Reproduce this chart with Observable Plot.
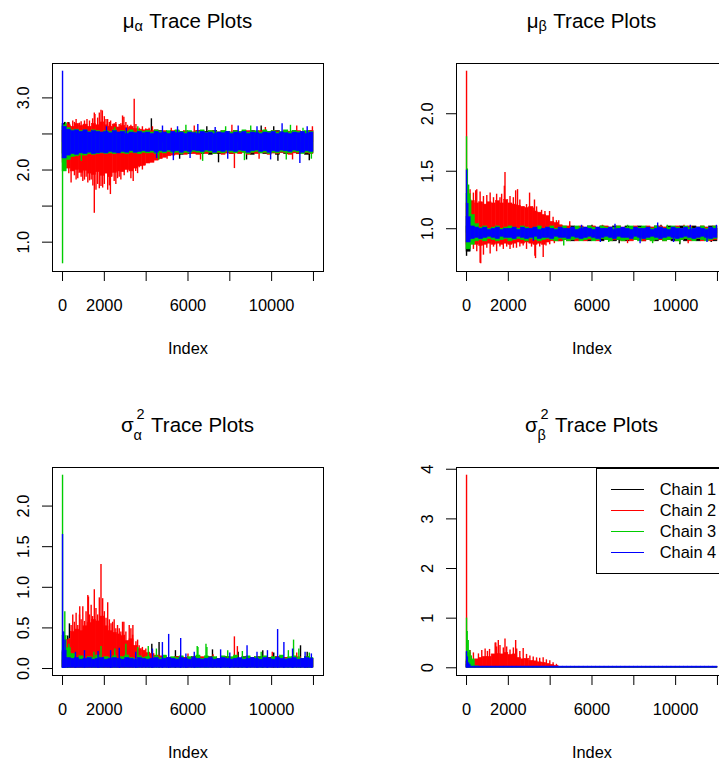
<!DOCTYPE html>
<html><head><meta charset="utf-8">
<script src="https://cdn.jsdelivr.net/npm/d3@7"></script>
<script src="https://cdn.jsdelivr.net/npm/@observablehq/plot@0.6"></script>
<style>
body{margin:0;background:#fff;}
#wrap{position:relative;width:719px;height:761px;overflow:hidden;background:#fff;font-family:"Liberation Sans",Arial,sans-serif;color:#000;}
.panel{position:absolute;width:404px;height:404px;}
.panel svg{position:absolute;left:0;top:0;}
.title{position:absolute;left:0;top:8.6px;width:375px;text-align:center;font-size:20.5px;line-height:24px;white-space:nowrap;}
.ss{display:inline-block;position:relative;height:0;vertical-align:baseline;}
.ss span{position:absolute;font-size:14.5px;line-height:10px;}
.s1{width:9px;}
.s1 .sub{left:0;top:-7px;}
.s2{width:11.5px;margin-right:6px;}
.s2 .sub{left:0;top:-1.7px;}
.s2 .sup{left:3px;bottom:12.7px;}
.legend{position:absolute;left:191.7px;top:63.5px;width:200px;height:106px;border:1px solid #000;box-sizing:border-box;background:#fff;}
.lrow{position:absolute;left:0;height:0;}
.lline{position:absolute;left:14px;width:33px;height:1px;top:0;}
.ltext{position:absolute;left:63px;top:-10px;font-size:16.4px;line-height:20px;white-space:nowrap;}
</style>
</head><body>
<div id="wrap"></div>
<script>
// ---------------- data ----------------
const chainNames = ["Chain 1", "Chain 2", "Chain 3", "Chain 4"];
const chainColors = ["#000000", "#FF0000", "#00CD00", "#0000FF"];
const BIN = 200;          // iterations per drawn column
const N_ITER = 12000;
const xTicks = [0, 2000, 4000, 6000, 8000, 10000, 12000];
const xTickLabels = ["0", "2000", "", "6000", "", "10000", ""];

// ---- mu_alpha ----
const mua_mid = 2.38;
const mua_yTicks = [1.0, 1.5, 2.0, 2.5, 3.0];
const mua_yLabels = ["1.0", "", "2.0", "", "3.0"];
const mua_c1_hi = [2.64,2.60,2.54,2.55,2.53,2.54,2.52,2.54,2.53,2.52, 2.53,2.51,2.54,2.52,2.53,2.52,2.54,2.51,2.53,2.52, 2.54,2.53,2.52,2.54,2.51,2.53,2.52,2.54,2.53,2.51, 2.53,2.52,2.54,2.51,2.53,2.52,2.54,2.52,2.51,2.53, 2.52,2.54,2.53,2.51,2.52,2.54,2.53,2.52,2.51,2.53, 2.52,2.54,2.51,2.53,2.52,2.54,2.53,2.51,2.52,2.54];
const mua_c1_lo = [2.22,2.20,2.21,2.23,2.22,2.24,2.21,2.23,2.22,2.24, 2.23,2.21,2.24,2.22,2.23,2.25,2.22,2.24,2.23,2.22, 2.24,2.23,2.22,2.24,2.25,2.22,2.24,2.23,2.21,2.24, 2.22,2.23,2.25,2.22,2.24,2.21,2.23,2.22,2.24,2.23, 2.22,2.24,2.23,2.25,2.22,2.21,2.24,2.23,2.22,2.24, 2.23,2.21,2.24,2.22,2.23,2.25,2.22,2.24,2.21,2.23];
const mua_c1_spk = [[100,2.66],[300,2.66],[4250,2.71],[6900,2.60],[9500,2.61],[10100,2.60],[7460,2.10],[10300,2.12],[11800,2.13],[8800,2.14],[5600,2.15],[1500,2.15],[3300,2.14]];
const mua_c2_hi = [2.54,2.62,2.60,2.64,2.61,2.63,2.60,2.64,2.62,2.66, 2.62,2.60,2.63,2.59,2.61,2.58,2.60,2.57,2.56,2.55, 2.56,2.54,2.55,2.53,2.54,2.52,2.54,2.53,2.52,2.54, 2.53,2.52,2.54,2.53,2.51,2.54,2.53,2.52,2.54,2.53, 2.52,2.54,2.53,2.51,2.54,2.53,2.52,2.54,2.53,2.52, 2.54,2.53,2.51,2.54,2.53,2.52,2.54,2.53,2.52,2.54];
const mua_c2_lo = [2.10,2.02,1.98,2.00,1.96,1.99,1.95,1.93,1.97,1.92, 1.95,1.90,1.96,1.98,1.97,2.00,1.98,2.02,2.05,2.06, 2.09,2.10,2.13,2.15,2.17,2.19,2.20,2.21,2.22,2.21, 2.23,2.22,2.21,2.23,2.22,2.24,2.22,2.23,2.21,2.23, 2.22,2.23,2.22,2.24,2.21,2.23,2.22,2.24,2.23,2.21, 2.23,2.22,2.24,2.23,2.21,2.23,2.22,2.24,2.23,2.22];
const mua_c2_spk = [[250,2.66],[330,2.64],[490,2.68],[570,2.66],[650,2.70],[810,2.65],[890,2.67],[1050,2.68],[1170,2.70],[1290,2.68],[1440,2.71],[1520,2.79],[1550,2.77],[1680,2.72],[1760,2.79],[1840,2.83],[1905,2.82],[2000,2.74],[2080,2.70],[2157,2.70],[2240,2.66],[2300,2.68],[2470,2.64],[2550,2.66],[2710,2.63],[2790,2.64],[2870,2.75],[2933,2.73],[3030,2.66],[3110,2.62],[3270,2.62],[3428,2.98],[3510,2.63],[3665,2.58],[3820,2.60],[3980,2.57],[4140,2.58],[4300,2.60],[5200,2.58],[6300,2.61],[8100,2.62],[9700,2.59],[11200,2.61],[11950,2.60],
  [300,1.95],[410,1.82],[570,1.92],[650,1.86],[730,1.88],[890,1.90],[970,1.84],[1050,1.86],[1130,1.90],[1210,1.82],[1290,1.85],[1370,1.86],[1450,1.78],[1520,1.40],[1600,1.72],[1680,1.80],[1760,1.74],[1840,1.77],[1920,1.75],[2000,1.80],[2160,1.72],[2240,1.78],[2290,1.66],[2470,1.84],[2550,1.80],[2630,1.88],[2710,1.90],[2790,1.86],[2950,1.92],[3110,1.96],[3270,1.88],[3380,1.84],[3500,1.98],[3590,1.95],[3665,2.03],[3820,2.00],[3900,2.06],[4140,2.10],[4300,2.12],[4600,2.14],[5000,2.15],[6600,2.14],[8220,2.02],[9400,2.15],[11000,2.14]];
const mua_c3_hi = [2.62,2.58,2.55,2.56,2.54,2.55,2.53,2.55,2.54,2.52, 2.54,2.53,2.55,2.52,2.54,2.53,2.55,2.52,2.54,2.53, 2.54,2.52,2.55,2.53,2.52,2.54,2.52,2.55,2.53,2.52, 2.54,2.52,2.53,2.55,2.52,2.54,2.53,2.52,2.54,2.53, 2.52,2.54,2.53,2.55,2.52,2.53,2.54,2.52,2.55,2.53, 2.54,2.52,2.53,2.55,2.52,2.54,2.53,2.52,2.54,2.53];
const mua_c3_lo = [1.98,2.14,2.18,2.19,2.21,2.20,2.22,2.21,2.22,2.23, 2.22,2.23,2.22,2.24,2.23,2.22,2.24,2.23,2.22,2.24, 2.23,2.24,2.22,2.24,2.23,2.25,2.23,2.24,2.22,2.24, 2.23,2.25,2.24,2.23,2.25,2.24,2.22,2.24,2.23,2.25, 2.24,2.23,2.25,2.24,2.22,2.24,2.25,2.23,2.24,2.22, 2.24,2.23,2.25,2.24,2.23,2.25,2.24,2.22,2.24,2.23];
const mua_c3_spk = [[1,0.70],[150,2.66],[900,2.12],[2500,2.59],[3600,2.60],[4600,2.14],[5900,2.62],[6700,2.12],[7800,2.60],[8700,2.13],[9000,2.61],[10700,2.14],[10900,2.62],[11500,2.58],[11900,2.15]];
const mua_c4_hi = [2.60,2.56,2.54,2.55,2.53,2.55,2.52,2.54,2.53,2.52, 2.53,2.51,2.54,2.52,2.53,2.50,2.52,2.51,2.53,2.51, 2.52,2.50,2.53,2.51,2.52,2.50,2.53,2.51,2.52,2.50, 2.52,2.51,2.50,2.53,2.51,2.52,2.50,2.52,2.51,2.53, 2.50,2.52,2.51,2.53,2.50,2.52,2.51,2.50,2.52,2.51, 2.53,2.50,2.52,2.51,2.50,2.52,2.51,2.53,2.50,2.52];
const mua_c4_lo = [2.16,2.20,2.22,2.21,2.23,2.22,2.24,2.22,2.23,2.24, 2.23,2.25,2.24,2.23,2.25,2.24,2.26,2.24,2.25,2.26, 2.25,2.26,2.24,2.26,2.25,2.27,2.25,2.26,2.24,2.26, 2.25,2.27,2.26,2.25,2.27,2.26,2.24,2.26,2.25,2.27, 2.26,2.25,2.27,2.26,2.24,2.26,2.27,2.25,2.26,2.24, 2.26,2.25,2.27,2.26,2.25,2.27,2.26,2.24,2.26,2.25];
const mua_c4_spk = [[1,3.37],[2100,2.60],[3050,2.58],[4780,2.61],[5500,2.60],[6470,2.63],[7300,2.59],[8400,2.61],[9300,2.60],[10500,2.64],[11700,2.60],[4500,2.16],[5300,2.13],[6100,2.16],[7900,2.15],[9950,2.14],[11350,2.09]];

// ---- mu_beta ----
const mub_mid = 0.96;
const mub_yTicks = [1.0, 1.5, 2.0];
const mub_yLabels = ["1.0", "1.5", "2.0"];
const mub_c1_hi = [1.02,1.01,1.00,1.02,1.01,1.00,1.02,1.01,1.00,1.01, 1.02,1.00,1.01,1.02,1.00,1.01,1.02,1.01,1.00,1.02, 1.01,1.00,1.02,1.01,1.00,1.02,1.01,1.00,1.01,1.02, 1.00,1.01,1.02,1.00,1.01,1.02,1.01,1.00,1.02,1.01, 1.00,1.02,1.01,1.00,1.01,1.02,1.00,1.01,1.02,1.01, 1.00,1.02,1.01,1.00,1.02,1.01,1.00,1.01,1.02,1.00];
const mub_c1_lo = [0.80,0.89,0.90,0.89,0.91,0.90,0.89,0.91,0.90,0.89, 0.90,0.91,0.89,0.90,0.91,0.89,0.90,0.91,0.90,0.89, 0.91,0.90,0.89,0.90,0.91,0.89,0.90,0.91,0.90,0.89, 0.91,0.90,0.89,0.91,0.90,0.89,0.90,0.91,0.89,0.90, 0.91,0.90,0.89,0.90,0.91,0.89,0.90,0.91,0.90,0.89, 0.91,0.90,0.89,0.90,0.91,0.89,0.90,0.91,0.90,0.89];
const mub_c1_spk = [[1,0.76],[3800,0.88],[6000,1.03],[7300,0.87],[9300,1.03],[10200,0.86],[11700,0.88]];
const mub_c2_hi = [1.22,1.24,1.22,1.23,1.21,1.23,1.22,1.24,1.22,1.25, 1.22,1.21,1.20,1.19,1.18,1.19,1.15,1.14,1.12,1.11, 1.06,1.05,1.03,1.02,1.02,1.00,1.01,1.02,1.00,1.01, 1.02,1.00,1.01,1.02,1.01,1.00,1.02,1.01,1.00,1.01, 1.02,1.00,1.01,1.02,1.01,1.00,1.02,1.01,1.00,1.01, 1.02,1.00,1.01,1.02,1.00,1.01,1.02,1.01,1.00,1.02];
const mub_c2_lo = [0.86,0.87,0.86,0.85,0.86,0.87,0.86,0.87,0.86,0.87, 0.86,0.87,0.88,0.87,0.88,0.87,0.86,0.87,0.86,0.88, 0.89,0.89,0.89,0.90,0.89,0.90,0.89,0.90,0.89,0.90, 0.90,0.89,0.91,0.90,0.89,0.90,0.91,0.89,0.90,0.89, 0.90,0.91,0.89,0.90,0.89,0.91,0.90,0.89,0.90,0.91, 0.89,0.90,0.91,0.89,0.90,0.91,0.89,0.90,0.89,0.90];
const mub_c2_spk = [[1,2.37],[170,1.34],[330,1.31],[440,1.33],[490,1.34],[650,1.32],[810,1.28],[970,1.29],[1130,1.31],[1290,1.27],[1440,1.30],[1600,1.27],[1680,1.30],[1810,1.37],[1840,1.49],[2080,1.28],[2240,1.27],[2350,1.33],[2440,1.34],[2550,1.25],[2710,1.19],[2870,1.21],[3015,1.31],[3190,1.18],[3250,1.25],[3350,1.19],[3590,1.16],[3750,1.15],[3900,1.08],[3970,1.15],[4140,1.10],[4300,1.07],[4410,1.07],[4620,1.02],[4935,1.06],[6500,1.03],[8600,1.02],[10400,1.03],
  [330,0.82],[490,0.80],[650,0.70],[680,0.695],[810,0.77],[970,0.83],[1130,0.78],[1290,0.84],[1440,0.80],[1600,0.84],[1760,0.82],[1920,0.84],[2080,0.82],[2240,0.83],[2390,0.83],[2550,0.84],[2710,0.85],[2870,0.82],[3110,0.84],[3270,0.76],[3300,0.74],[3500,0.84],[3667,0.75],[3800,0.85],[3980,0.86],[4200,0.87],[7700,0.87],[10600,0.87]];
const mub_c3_hi = [1.30,1.12,1.04,1.01,1.02,1.00,1.01,1.02,1.00,1.01, 1.02,1.01,1.00,1.02,1.01,1.00,1.01,1.02,1.00,1.01, 1.02,1.00,1.01,1.02,1.00,1.01,1.02,1.01,1.00,1.02, 1.01,1.00,1.02,1.01,1.00,1.01,1.02,1.00,1.01,1.02, 1.00,1.01,1.02,1.01,1.00,1.02,1.01,1.00,1.01,1.02, 1.01,1.00,1.02,1.01,1.00,1.01,1.02,1.00,1.01,1.02];
const mub_c3_lo = [0.82,0.86,0.89,0.90,0.89,0.91,0.90,0.89,0.90,0.91, 0.89,0.90,0.91,0.90,0.89,0.91,0.90,0.89,0.90,0.91, 0.90,0.89,0.91,0.90,0.89,0.90,0.91,0.89,0.90,0.91, 0.89,0.90,0.91,0.90,0.89,0.91,0.90,0.89,0.90,0.91, 0.90,0.89,0.91,0.90,0.89,0.90,0.91,0.89,0.90,0.91, 0.89,0.90,0.91,0.90,0.89,0.91,0.90,0.89,0.90,0.91];
const mub_c3_spk = [[1,1.80],[40,1.52],[100,1.38],[200,1.25],[4650,0.85],[5800,1.02],[6800,0.88],[7700,1.03],[8900,0.87],[9600,1.03],[10200,0.87],[11300,1.02]];
const mub_c4_hi = [1.10,1.02,1.01,1.00,1.01,0.99,1.00,1.01,0.99,1.00, 1.00,1.01,0.99,1.01,1.00,1.00,1.01,0.99,1.00,1.01, 1.00,0.99,1.01,1.00,1.00,1.01,0.99,1.00,1.01,1.00, 0.99,1.01,1.00,1.00,1.01,0.99,1.00,1.01,1.00,0.99, 1.01,1.00,1.00,1.01,0.99,1.00,1.01,1.00,0.99,1.01, 1.00,1.00,1.01,0.99,1.00,1.01,1.00,0.99,1.01,1.00];
const mub_c4_lo = [0.88,0.91,0.92,0.91,0.92,0.93,0.92,0.91,0.93,0.92, 0.92,0.91,0.93,0.92,0.91,0.92,0.93,0.91,0.92,0.92, 0.91,0.93,0.92,0.92,0.91,0.93,0.92,0.91,0.92,0.93, 0.92,0.91,0.92,0.93,0.92,0.91,0.93,0.92,0.92,0.91, 0.93,0.92,0.91,0.92,0.93,0.92,0.91,0.92,0.93,0.92, 0.91,0.92,0.93,0.92,0.91,0.92,0.93,0.92,0.91,0.92];
const mub_c4_spk = [[1,1.51],[60,1.22],[3200,0.89],[5500,1.03],[6400,0.88],[7100,1.04],[8300,0.87],[9140,1.05],[9900,0.88],[10700,1.03],[11500,0.88],[11950,1.03]];

// ---- sigma^2_alpha ----
const s2a_mid = 0;
const s2a_yTicks = [0, 0.5, 1.0, 1.5, 2.0];
const s2a_yLabels = ["0.0", "0.5", "1.0", "1.5", "2.0"];
const s2a_floor = [0.012, 0.012, 0.011, 0.009];
const s2a_c1_hi = [0.20,0.18,0.13,0.12,0.14,0.12,0.13,0.11,0.14,0.12, 0.13,0.12,0.14,0.11,0.13,0.12,0.14,0.12,0.13,0.11, 0.14,0.13,0.12,0.14,0.12,0.13,0.11,0.14,0.12,0.13, 0.12,0.14,0.11,0.13,0.12,0.14,0.13,0.11,0.12,0.14, 0.12,0.13,0.11,0.14,0.12,0.13,0.12,0.14,0.11,0.13, 0.12,0.14,0.12,0.13,0.11,0.14,0.13,0.12,0.14,0.12];
const s2a_c1_spk = [[250,0.40],[330,0.55],[4270,0.30],[4617,0.32],[5400,0.22],[7171,0.23],[8400,0.20],[9576,0.22],[10100,0.19],[11381,0.28],[11700,0.20]];
const s2a_c2_hi = [0.10,0.35,0.45,0.48,0.46,0.52,0.56,0.60,0.58,0.64, 0.52,0.46,0.44,0.42,0.40,0.34,0.36,0.28,0.24,0.22, 0.19,0.18,0.16,0.15,0.14,0.13,0.12,0.14,0.12,0.13, 0.11,0.13,0.12,0.14,0.12,0.11,0.13,0.12,0.14,0.12, 0.13,0.14,0.12,0.11,0.13,0.12,0.14,0.12,0.13,0.11, 0.12,0.14,0.12,0.13,0.11,0.12,0.14,0.12,0.13,0.12];
const s2a_c2_spk = [[330,0.37],[410,0.53],[490,0.66],[570,0.57],[650,0.68],[730,0.53],[810,0.66],[824,0.76],[890,0.60],[970,0.76],[1050,0.58],[1125,0.70],[1210,0.90],[1240,0.88],[1290,0.66],[1370,0.78],[1440,0.64],[1520,0.97],[1600,0.74],[1680,0.66],[1760,0.87],[1840,1.28],[1920,0.86],[2000,0.70],[2080,0.62],[2160,0.81],[2240,0.60],[2320,0.55],[2395,0.57],[2470,0.60],[2550,0.49],[2630,0.53],[2713,0.49],[2790,0.45],[2870,0.57],[2933,0.57],[2950,0.41],[3030,0.45],[3110,0.33],[3190,0.53],[3270,0.49],[3350,0.41],[3365,0.53],[3510,0.33],[3590,0.35],[3665,0.28],[3820,0.26],[3983,0.24],[4140,0.20],[4300,0.22],[6000,0.18],[7200,0.17],[8219,0.39],[8362,0.27],[10030,0.20],[11200,0.19]];
const s2a_c3_hi = [0.40,0.25,0.18,0.13,0.15,0.12,0.14,0.13,0.16,0.12, 0.14,0.13,0.15,0.12,0.14,0.16,0.13,0.12,0.15,0.13, 0.14,0.12,0.15,0.13,0.16,0.12,0.14,0.13,0.15,0.12, 0.14,0.13,0.16,0.12,0.15,0.13,0.14,0.12,0.15,0.13, 0.14,0.16,0.12,0.13,0.15,0.12,0.14,0.13,0.15,0.12, 0.14,0.13,0.16,0.12,0.14,0.15,0.13,0.12,0.14,0.13];
const s2a_c3_spk = [[1,2.38],[60,0.45],[110,0.70],[300,0.30],[1500,0.20],[1840,0.27],[2500,0.24],[3030,0.30],[3600,0.26],[4100,0.27],[4490,0.24],[6440,0.27],[6476,0.26],[6860,0.30],[6905,0.26],[7900,0.22],[8600,0.21],[9500,0.20],[10800,0.22],[11048,0.35],[11300,0.24],[11800,0.19]];
const s2a_c4_hi = [0.22,0.13,0.12,0.13,0.11,0.12,0.13,0.11,0.12,0.13, 0.11,0.12,0.13,0.12,0.11,0.13,0.12,0.11,0.13,0.12, 0.11,0.12,0.13,0.11,0.12,0.13,0.12,0.11,0.13,0.12, 0.11,0.13,0.12,0.11,0.12,0.13,0.11,0.12,0.13,0.12, 0.11,0.12,0.13,0.11,0.12,0.13,0.12,0.11,0.13,0.12, 0.11,0.13,0.12,0.11,0.12,0.13,0.11,0.12,0.13,0.12];
const s2a_c4_spk = [[1,1.65],[50,0.45],[120,0.35],[620,0.20],[1050,0.22],[1700,0.21],[2300,0.22],[2713,0.25],[3500,0.20],[4300,0.24],[4776,0.32],[5076,0.42],[5650,0.37],[5900,0.18],[6300,0.20],[7560,0.23],[8000,0.19],[8824,0.28],[9300,0.20],[9800,0.22],[10286,0.48],[10586,0.32],[11000,0.24],[11600,0.20],[11900,0.18]];

// ---- sigma^2_beta ----
const s2b_mid = 0;
const s2b_yTicks = [0, 1, 2, 3, 4];
const s2b_yLabels = ["0", "1", "2", "3", "4"];
const s2b_floor = [0, 0, 0, 0];
const s2b_c1_hi = [0.12,0.03,0.015,0.015,0.015,0.015,0.015,0.015,0.015,0.015, 0.015,0.015,0.015,0.015,0.015,0.015,0.015,0.015,0.015,0.015, 0.015,0.015,0.015,0.015,0.015,0.015,0.015,0.015,0.015,0.015, 0.015,0.015,0.015,0.015,0.015,0.015,0.015,0.015,0.015,0.015, 0.015,0.015,0.015,0.015,0.015,0.015,0.015,0.015,0.015,0.015, 0.015,0.015,0.015,0.015,0.015,0.015,0.015,0.015,0.015,0.015];
const s2b_c1_spk = [];
const s2b_c2_hi = [0.15,0.14,0.17,0.20,0.22,0.22,0.27,0.28,0.27,0.30, 0.26,0.27,0.20,0.17,0.18,0.14,0.13,0.11,0.10,0.08, 0.06,0.04,0.02,0.015,0.015,0.015,0.015,0.015,0.015,0.015, 0.015,0.015,0.015,0.015,0.015,0.015,0.015,0.015,0.015,0.015, 0.015,0.015,0.015,0.015,0.015,0.015,0.015,0.015,0.015,0.015, 0.015,0.015,0.015,0.015,0.015,0.015,0.015,0.015,0.015,0.015];
const s2b_c2_spk = [[1,3.88],[170,0.35],[330,0.30],[570,0.28],[730,0.35],[890,0.38],[1000,0.33],[1100,0.37],[1370,0.50],[1400,0.50],[1440,0.42],[1520,0.55],[1600,0.45],[1760,0.40],[1840,0.58],[1920,0.42],[2080,0.36],[2240,0.40],[2350,0.55],[2400,0.38],[2550,0.33],[2710,0.39],[2870,0.27],[3030,0.24],[3190,0.22],[3350,0.20],[3500,0.19],[3665,0.20],[3820,0.16],[3983,0.14],[4140,0.10],[4300,0.07]];
const s2b_c3_hi = [0.30,0.16,0.03,0.015,0.015,0.015,0.015,0.015,0.015,0.015, 0.015,0.015,0.015,0.015,0.015,0.015,0.015,0.015,0.015,0.015, 0.015,0.015,0.015,0.015,0.015,0.015,0.015,0.015,0.015,0.015, 0.015,0.015,0.015,0.015,0.015,0.015,0.015,0.015,0.015,0.015, 0.015,0.015,0.015,0.015,0.015,0.015,0.015,0.015,0.015,0.015, 0.015,0.015,0.015,0.015,0.015,0.015,0.015,0.015,0.015,0.015];
const s2b_c3_spk = [[1,1.0],[30,0.73],[80,0.55],[150,0.35],[230,0.24],[320,0.18]];
const s2b_c4_hi = [0.06,0.025,0.025,0.025,0.025,0.025,0.025,0.025,0.025,0.025, 0.025,0.025,0.025,0.025,0.025,0.025,0.025,0.025,0.025,0.025, 0.025,0.025,0.025,0.025,0.025,0.025,0.025,0.025,0.025,0.025, 0.025,0.025,0.025,0.025,0.025,0.025,0.025,0.025,0.025,0.025, 0.025,0.025,0.025,0.025,0.025,0.025,0.025,0.025,0.025,0.025, 0.025,0.025,0.025,0.025,0.025,0.025,0.025,0.025,0.025,0.025];
const s2b_c4_spk = [[1,0.33],[40,0.22],[100,0.10]];

// ---------------- drawing ----------------
function tracePanel({his, los, spikes, mid, yTicks, yLabels}) {
  const cols = [], spk = [];
  for (let c = 0; c < 4; c++) {
    his[c].forEach((h, i) => {
      const lo = Array.isArray(los[c]) ? los[c][i] : los[c];
      cols.push({chain: c, x1: i * BIN, x2: (i + 1) * BIN, y1: lo, y2: h});
    });
    spikes[c].forEach(([x, v]) => spk.push({chain: c, x, y1: mid, y2: v}));
  }
  const vals = cols.flatMap(d => [d.y1, d.y2]).concat(spk.map(d => d.y2));
  const [vmin, vmax] = d3.extent(vals);
  const pad = (vmax - vmin) * 0.04;
  const xPad = (N_ITER - 1) * 0.04;
  const yLab = new Map(yTicks.map((t, i) => [t, yLabels[i]]));
  const xLab = new Map(xTicks.map((t, i) => [t, xTickLabels[i]]));
  const marks = [];
  for (let c = 0; c < 4; c++) {
    marks.push(Plot.rect(cols.filter(d => d.chain === c), {x1: "x1", x2: "x2", y1: "y1", y2: "y2", fill: chainColors[c], stroke: chainColors[c], strokeWidth: 0.5}));
    marks.push(Plot.ruleX(spk.filter(d => d.chain === c), {x: "x", y1: "y1", y2: "y2", stroke: chainColors[c], strokeWidth: 1.4}));
  }
  marks.push(Plot.frame({stroke: "#000", strokeWidth: 1}));
  marks.push(Plot.text(yTicks, {y: d => d, text: d => yLab.get(d), frameAnchor: "left", dx: -29, rotate: -90, textAnchor: "middle", lineAnchor: "middle"}));
  marks.push(Plot.text(["Index"], {frameAnchor: "bottom", dy: 77, lineAnchor: "middle"}));
  return Plot.plot({
    width: 404, height: 404,
    marginLeft: 52, marginRight: 81, marginTop: 63, marginBottom: 133,
    style: {fontFamily: "'Liberation Sans', Arial, sans-serif", fontSize: "16.4px", background: "transparent", overflow: "visible", color: "#000"},
    x: {domain: [1 - xPad, N_ITER + xPad], ticks: xTicks, tickFormat: d => xLab.get(d), tickSize: 10, tickPadding: 18, label: null},
    y: {domain: [vmin - pad, vmax + pad], ticks: yTicks, tickFormat: () => "", tickSize: 10, tickPadding: 2, label: null},
    marks
  });
}

const panels = [
  {left: 0, top: 0, title: 'μ<span class="ss s1"><span class="sub">α</span></span> Trace Plots',
   his: [mua_c1_hi, mua_c2_hi, mua_c3_hi, mua_c4_hi], los: [mua_c1_lo, mua_c2_lo, mua_c3_lo, mua_c4_lo],
   spikes: [mua_c1_spk, mua_c2_spk, mua_c3_spk, mua_c4_spk], mid: mua_mid, yTicks: mua_yTicks, yLabels: mua_yLabels},
  {left: 404, top: 0, title: 'μ<span class="ss s1"><span class="sub">β</span></span> Trace Plots',
   his: [mub_c1_hi, mub_c2_hi, mub_c3_hi, mub_c4_hi], los: [mub_c1_lo, mub_c2_lo, mub_c3_lo, mub_c4_lo],
   spikes: [mub_c1_spk, mub_c2_spk, mub_c3_spk, mub_c4_spk], mid: mub_mid, yTicks: mub_yTicks, yLabels: mub_yLabels},
  {left: 0, top: 404, title: 'σ<span class="ss s2"><span class="sup">2</span><span class="sub">α</span></span>Trace Plots',
   his: [s2a_c1_hi, s2a_c2_hi, s2a_c3_hi, s2a_c4_hi], los: s2a_floor,
   spikes: [s2a_c1_spk, s2a_c2_spk, s2a_c3_spk, s2a_c4_spk], mid: s2a_mid, yTicks: s2a_yTicks, yLabels: s2a_yLabels},
  {left: 404, top: 404, title: 'σ<span class="ss s2"><span class="sup">2</span><span class="sub">β</span></span>Trace Plots', legend: true,
   his: [s2b_c1_hi, s2b_c2_hi, s2b_c3_hi, s2b_c4_hi], los: s2b_floor,
   spikes: [s2b_c1_spk, s2b_c2_spk, s2b_c3_spk, s2b_c4_spk], mid: s2b_mid, yTicks: s2b_yTicks, yLabels: s2b_yLabels}
];

const wrap = document.getElementById("wrap");
for (const p of panels) {
  const div = document.createElement("div");
  div.className = "panel";
  div.style.left = p.left + "px";
  div.style.top = p.top + "px";
  div.appendChild(tracePanel(p));
  const t = document.createElement("div");
  t.className = "title";
  t.innerHTML = p.title;
  div.appendChild(t);
  if (p.legend) {
    const lg = document.createElement("div");
    lg.className = "legend";
    const rowY = [20.6, 41.6, 62.8, 83.8];
    chainNames.forEach((name, i) => {
      const r = document.createElement("div");
      r.className = "lrow";
      r.style.top = rowY[i] + "px";
      const ln = document.createElement("div");
      ln.className = "lline";
      ln.style.background = chainColors[i];
      const tx = document.createElement("div");
      tx.className = "ltext";
      tx.textContent = name;
      r.appendChild(ln); r.appendChild(tx);
      lg.appendChild(r);
    });
    div.appendChild(lg);
  }
  wrap.appendChild(div);
}
</script>
</body></html>
